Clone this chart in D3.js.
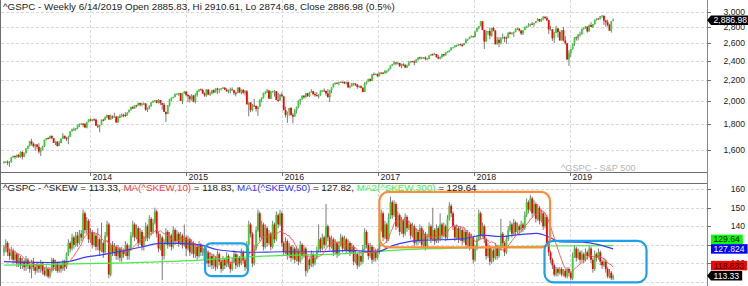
<!DOCTYPE html>
<html>
<head>
<meta charset="utf-8">
<script src="https://cdn.jsdelivr.net/npm/d3@7"></script>
<style>
  body { margin: 0; background: #fff; }
  svg { display: block; }
  text { font-family: "Liberation Sans", Arial, sans-serif; }
</style>
</head>
<body>
<div id="chart"></div>
<script>
// weekly bars, Friday closes, 2013-02-08 .. 2019-06-14
const firstWeek = "2013-02-08", lastWeek = "2019-06-14";

// ^GSPC weekly OHLC
const spxOpen = [1513,
1518,1520,1516,1518,1551,1561,1557,1569,1553,1589,1555,1582,1614,1634,1667,1650,1631,1643,1627,1592,
1606,1632,1680,1692,1691,1710,1691,1656,1664,1633,1655,1688,1710,1692,1691,1703,1745,1760,1762,1771,
1798,1805,1806,1805,1775,1818,1841,
1831,1842,1839,1790,1783,1797,1839,1836,1860,1878,1841,1867,1858,1865,1816,1865,1863,1881,1879,1878,
1901,1924,1949,1936,1963,1961,1985,1968,1978,1979,1925,1932,1955,1988,2003,2008,1986,2010,1983,1968,
1906,1887,1965,2018,2032,2040,2064,2068,2075,2002,2071,2089,
2058,2045,2019,2052,1995,2055,2097,2110,2105,2071,2053,2108,2061,2067,2102,2081,2118,2108,2116,2123,
2126,2107,2093,2094,2110,2102,2077,2076,2127,2080,2104,2078,2092,1971,1989,1921,1961,1958,1931,1951,
2015,2033,2075,2079,2099,2023,2089,2090,2092,2012,2006,2061,2044,
1922,1880,1907,1940,1880,1865,1918,1948,2000,2022,2050,2036,2073,2048,2081,2092,2065,2057,2047,2052,
2099,2099,2096,2071,2037,2103,2130,2162,2175,2174,2183,2184,2183,2169,2180,2128,2139,2165,2168,2154,
2133,2141,2126,2085,2165,2182,2213,2192,2260,2258,2264,2239,
2277,2275,2271,2295,2297,2316,2351,2367,2383,2373,2378,2344,2363,2356,2329,2349,2384,2399,2391,2382,
2416,2439,2432,2433,2438,2423,2425,2459,2473,2472,2477,2441,2426,2443,2477,2461,2500,2502,2519,2549,
2553,2575,2581,2588,2582,2579,2602,2642,2652,2676,2683,2674,
2743,2786,2810,2873,2762,2620,2732,2747,2691,2787,2752,2588,2641,2605,2656,2670,2669,2663,2728,2713,
2721,2735,2779,2780,2755,2718,2760,2801,2802,2819,2840,2833,2850,2875,2902,2872,2905,2930,2914,2886,
2767,2768,2659,2723,2781,2736,2633,2760,2633,2600,2417,2486,
2532,2596,2671,2665,2707,2708,2776,2793,2804,2743,2823,2801,2834,2893,2907,2905,2940,2946,2881,2860,
2826,2752,2886];

const spxHigh = [
1525,1524,1530,1525,1552,1564,1563,1570,1574,1594,1594,1585,1618,1635,1672,1687,1658,1646,1648,1654,
1621,1635,1680,1693,1699,1710,1711,1692,1669,1670,1672,1689,1730,1711,1701,1711,1745,1767,1775,1771,
1799,1808,1813,1810,1809,1823,1844,
1850,1844,1851,1850,1799,1798,1841,1847,1867,1883,1879,1883,1875,1897,1873,1869,1884,1891,1889,1902,
1902,1924,1950,1956,1964,1968,1986,1986,1984,1991,1984,1943,1964,1994,2006,2011,2008,2020,2010,1985,
1986,1907,1965,2019,2034,2041,2072,2075,2079,2076,2077,2094,
2093,2064,2056,2065,2058,2072,2097,2111,2119,2117,2083,2114,2114,2088,2107,2111,2120,2126,2117,2124,
2134,2131,2121,2109,2127,2130,2102,2085,2129,2132,2110,2112,2103,2103,1989,1990,1975,2021,1960,1952,
2016,2034,2080,2094,2116,2101,2097,2097,2104,2094,2076,2067,2082,
2044,1951,1908,1940,1947,1896,1931,1952,2009,2022,2053,2056,2075,2075,2087,2112,2096,2083,2085,2065,
2101,2104,2120,2096,2113,2104,2131,2169,2176,2178,2183,2188,2185,2187,2185,2188,2150,2175,2175,2169,
2162,2148,2148,2131,2180,2189,2214,2214,2260,2278,2268,2267,
2277,2279,2282,2301,2300,2319,2352,2368,2401,2389,2390,2382,2370,2376,2366,2362,2399,2401,2403,2406,
2418,2441,2447,2446,2442,2450,2433,2463,2477,2484,2491,2477,2466,2451,2480,2477,2501,2509,2520,2552,
2555,2576,2583,2589,2597,2595,2605,2658,2652,2680,2695,2689,
2744,2787,2811,2873,2873,2763,2755,2747,2790,2787,2802,2761,2676,2673,2675,2717,2683,2682,2733,2742,
2736,2742,2780,2790,2780,2755,2764,2805,2816,2848,2841,2863,2855,2876,2916,2902,2912,2941,2940,2940,
2894,2816,2775,2738,2816,2781,2747,2761,2800,2685,2601,2520,
2538,2597,2675,2681,2709,2739,2778,2794,2813,2808,2831,2861,2836,2894,2910,2916,2942,2955,2946,2892,
2892,2840,2876,2911];

const spxLow = [
1507,1515,1497,1485,1514,1547,1538,1546,1548,1548,1536,1553,1578,1608,1628,1636,1621,1598,1609,1577,
1560,1601,1625,1674,1684,1686,1684,1655,1639,1627,1633,1655,1684,1684,1670,1646,1700,1744,1747,1747,
1761,1780,1797,1779,1773,1768,1818,
1828,1823,1830,1790,1770,1737,1797,1825,1834,1853,1839,1839,1845,1856,1814,1816,1859,1860,1859,1862,
1872,1900,1915,1930,1930,1944,1959,1953,1955,1965,1916,1905,1928,1951,1985,1991,1980,1979,1965,1926,
1906,1821,1886,1951,2002,2027,2035,2064,2049,2002,1973,2069,
2047,1992,1988,2005,1990,1980,2041,2085,2103,2066,2039,2040,2055,2048,2064,2072,2080,2067,2075,2099,
2117,2105,2086,2072,2072,2101,2057,2044,2076,2077,2063,2067,2052,1971,1867,1903,1910,1953,1908,1872,
1949,1990,2025,2063,2076,2022,2020,2080,2042,2012,1993,2005,2043,
1918,1858,1812,1872,1872,1810,1865,1891,1937,1969,2012,2022,2032,2039,2039,2079,2054,2040,2043,2025,
2052,2086,2090,2051,2032,1992,2075,2130,2155,2160,2147,2171,2169,2160,2157,2128,2119,2139,2145,2142,
2115,2124,2119,2084,2085,2157,2180,2187,2190,2254,2253,2233,
2239,2262,2258,2266,2268,2288,2311,2344,2357,2354,2361,2334,2322,2344,2328,2323,2349,2380,2386,2353,
2382,2405,2416,2419,2422,2406,2407,2419,2458,2459,2467,2437,2418,2417,2428,2447,2459,2496,2495,2518,
2543,2552,2557,2566,2574,2557,2577,2600,2624,2652,2673,2673,
2674,2742,2768,2808,2759,2533,2618,2700,2648,2678,2742,2586,2585,2554,2587,2648,2613,2594,2660,2708,
2707,2676,2734,2761,2742,2698,2699,2760,2790,2802,2805,2828,2803,2850,2875,2864,2866,2886,2903,2874,
2710,2755,2628,2604,2722,2670,2632,2631,2621,2583,2409,2347,
2444,2524,2570,2632,2632,2681,2705,2764,2775,2729,2742,2800,2785,2830,2882,2898,2897,2920,2825,2801,
2805,2750,2729,2875];

const spxClose = [
1518,1520,1516,1518,1551,1561,1557,1569,1553,1589,1555,1582,1614,1634,1667,1650,1631,1643,1627,1592,
1606,1632,1680,1692,1691,1710,1691,1656,1664,1633,1655,1688,1710,1692,1691,1703,1745,1760,1762,1771,
1798,1805,1806,1805,1775,1818,1841,
1831,1842,1839,1790,1783,1797,1839,1836,1860,1878,1841,1867,1858,1865,1816,1865,1863,1881,1879,1878,
1901,1924,1949,1936,1963,1961,1985,1968,1978,1979,1925,1932,1955,1988,2003,2008,1986,2010,1983,1968,
1906,1887,1965,2018,2032,2040,2064,2068,2075,2002,2071,2089,
2058,2045,2019,2052,1995,2055,2097,2110,2105,2071,2053,2108,2061,2067,2102,2081,2118,2108,2116,2123,
2126,2107,2093,2094,2110,2102,2077,2076,2127,2080,2104,2078,2092,1971,1989,1921,1961,1958,1931,1951,
2015,2033,2075,2079,2099,2023,2089,2090,2092,2012,2006,2061,2044,
1922,1880,1907,1940,1880,1865,1918,1948,2000,2022,2050,2036,2073,2048,2081,2092,2065,2057,2047,2052,
2099,2099,2096,2071,2037,2103,2130,2162,2175,2174,2183,2184,2183,2169,2180,2128,2139,2165,2168,2154,
2133,2141,2126,2085,2165,2182,2213,2192,2260,2258,2264,2239,
2277,2275,2271,2295,2297,2316,2351,2367,2383,2373,2378,2344,2363,2356,2329,2349,2384,2399,2391,2382,
2416,2439,2432,2433,2438,2423,2425,2459,2473,2472,2477,2441,2426,2443,2477,2461,2500,2502,2519,2549,
2553,2575,2581,2588,2582,2579,2602,2642,2652,2676,2683,2674,
2743,2786,2810,2873,2762,2620,2732,2747,2691,2787,2752,2588,2641,2605,2656,2670,2669,2663,2728,2713,
2721,2735,2779,2780,2755,2718,2760,2801,2802,2819,2840,2833,2850,2875,2902,2872,2905,2930,2914,2886,
2767,2768,2659,2723,2781,2736,2633,2760,2633,2600,2417,2486,
2532,2596,2671,2665,2707,2708,2776,2793,2804,2743,2823,2801,2834,2893,2907,2905,2940,2946,2881,2860,
2826,2752,2873,2887];

// ^SKEW weekly OHLC
const skewOpen = [126,
128,131,126,124,127,122,125,120,123,119,121,118,122,119,117,121,118,116,119,117,
120,116,114,117,113,116,122,118,120,116,119,117,121,118,125,131,128,134,130,135,
131,136,134,147,138,143,133,137,130,135,129,133,127,131,126,135,141,114,130,126,
129,124,128,123,127,125,130,124,128,135,141,134,139,131,137,129,133,140,134,144,
137,142,148,136,128,134,124,131,137,130,135,129,138,132,136,131,135,130,134,128,
133,126,131,125,129,124,130,126,128,122,126,120,124,119,123,118,125,121,117,122,
119,124,120,117,121,125,119,123,120,126,122,118,130,141,136,120,128,138,147,134,
141,129,139,131,136,129,141,133,146,141,147,131,126,132,124,129,123,128,122,127,
121,130,124,128,116,122,119,125,120,123,127,133,128,134,130,140,134,129,133,126,
131,125,130,134,128,133,127,131,126,129,121,125,119,124,121,128,137,130,124,129,
122,127,123,126,138,147,134,141,133,145,153,146,152,140,146,137,143,136,145,139,
141,135,140,131,137,132,139,130,136,129,134,140,133,138,132,139,133,141,135,140,
134,144,151,147,140,134,139,133,138,132,137,130,136,129,134,122,128,133,147,135,
140,133,124,129,121,127,123,129,124,128,136,131,126,133,138,141,136,142,137,140,
138,141,139,146,153,149,155,147,152,144,150,143,147,140,145,131,126,122,119,114,
117,115,117,114,116,113,117,115,112,124,128,123,126,122,125,122,126,124,128,122,
117,125,123,126,121,119,121,117,113,115,112];

const skewHigh = [
130,133,132,128,129,128,127,126,125,124,123,122,124,123,121,122,123,119,121,120,
122,121,118,119,118,118,123,123,122,121,121,120,122,122,126,133,132,136,135,137,
137,138,138,149,148,145,144,139,138,137,136,139,134,142,132,137,143,142,131,132,
131,130,130,129,129,128,132,131,130,137,143,142,141,140,139,138,135,142,141,146,
145,144,150,149,137,136,135,133,139,138,137,136,140,139,138,137,137,136,141,135,
135,134,133,132,131,130,132,131,130,129,128,127,126,125,125,124,127,126,122,124,
123,126,125,121,123,127,126,125,124,128,127,123,132,143,142,137,130,140,149,148,
143,142,141,140,138,137,143,142,148,147,149,148,132,134,133,131,130,130,129,129,
128,132,131,130,129,124,123,127,126,125,129,141,134,136,135,152,141,135,135,134,
133,132,132,136,135,135,134,133,132,131,130,127,126,126,125,130,139,138,131,131,
130,129,128,128,140,149,148,143,142,147,156,154,154,153,148,147,145,144,147,146,
143,142,142,141,139,138,141,140,138,137,136,142,141,150,139,141,140,147,142,142,
141,146,153,152,148,141,141,140,140,139,139,138,138,137,136,135,130,135,149,148,
142,141,134,131,130,129,128,131,130,130,144,137,132,135,140,143,142,144,143,142,
141,143,142,148,155,154,157,156,154,153,152,151,149,148,147,146,132,127,123,120,
118,118,118,118,117,117,118,118,116,126,130,129,128,127,127,126,128,127,130,129,
123,127,126,128,127,122,123,122,118,117,116,114];

const skewLow = [
124,126,124,122,122,120,120,118,118,117,117,116,116,117,115,112,116,114,115,115,
115,114,113,113,112,112,115,116,116,115,115,115,116,116,117,124,126,127,128,129,
129,130,132,133,136,136,131,131,128,129,127,127,124,126,123,125,134,112,113,124,
124,122,122,121,121,123,124,122,122,127,134,132,133,129,130,127,127,132,132,133,
135,136,141,134,126,127,111,122,130,128,129,127,128,130,131,129,130,128,129,124,
127,124,125,123,123,122,123,124,124,120,120,118,118,117,117,116,117,119,115,116,
117,118,118,115,116,120,117,118,118,119,120,116,117,129,134,118,119,127,137,132,
133,127,128,129,130,127,128,131,132,139,140,129,124,125,122,123,121,122,120,121,
119,120,122,123,113,115,117,118,118,119,122,126,126,127,128,129,132,127,128,124,
125,123,124,129,126,127,125,126,124,125,119,120,117,118,119,120,127,128,122,123,
120,121,121,122,125,137,132,133,131,132,144,144,145,138,139,135,136,134,135,137,
138,133,134,129,130,130,131,128,129,127,128,133,131,132,130,131,131,132,133,134,
132,133,143,145,138,132,133,131,132,130,131,128,129,127,128,120,121,127,132,133,
134,131,122,123,119,120,121,122,122,123,127,129,124,125,132,137,134,135,135,136,
136,137,137,138,145,147,148,145,146,142,143,141,142,138,139,129,124,120,117,113,
113,113,114,113,113,112,112,113,111,111,123,121,122,120,121,120,121,122,123,120,
115,116,121,122,119,117,118,115,112,112,111,111];

const skewClose = [
128,131,126,124,127,122,125,120,123,119,121,118,122,119,117,121,118,116,119,117,
120,116,114,117,113,116,122,118,120,116,119,117,121,118,125,131,128,134,130,135,
131,136,134,147,138,143,133,137,130,135,129,133,127,131,126,135,141,114,130,126,
129,124,128,123,127,125,130,124,128,135,141,134,139,131,137,129,133,140,134,144,
137,142,148,136,128,134,124,131,137,130,135,129,138,132,136,131,135,130,134,128,
133,126,131,125,129,124,130,126,128,122,126,120,124,119,123,118,125,121,117,122,
119,124,120,117,121,125,119,123,120,126,122,118,130,141,136,120,128,138,147,134,
141,129,139,131,136,129,141,133,146,141,147,131,126,132,124,129,123,128,122,127,
121,130,124,128,116,122,119,125,120,123,127,133,128,134,130,140,134,129,133,126,
131,125,130,134,128,133,127,131,126,129,121,125,119,124,121,128,137,130,124,129,
122,127,123,126,138,147,134,141,133,145,153,146,152,140,146,137,143,136,145,139,
141,135,140,131,137,132,139,130,136,129,134,140,133,138,132,139,133,141,135,140,
134,144,151,147,140,134,139,133,138,132,137,130,136,129,134,122,128,133,147,135,
140,133,124,129,121,127,123,129,124,128,136,131,126,133,138,141,136,142,137,140,
138,141,139,146,153,149,155,147,152,144,150,143,147,140,145,131,126,122,119,114,
117,115,117,114,116,113,117,115,112,124,128,123,126,122,125,122,126,124,128,122,
117,125,123,126,121,119,121,117,113,115,112,113.33];

// MA1(^SKEW,50) and MA2(^SKEW,300)
const ma50Dates = ["2013-02-08","2013-08-02","2013-10-06","2013-12-21","2014-02-08","2014-07-22","2014-09-24",
  "2014-11-12","2015-02-23","2015-04-29","2015-06-28","2015-09-01","2016-01-05","2016-05-13","2016-09-16",
  "2016-12-27","2017-02-26","2017-05-29","2017-11-20","2018-02-04","2018-04-09","2018-06-24","2018-08-28",
  "2018-10-17","2018-11-24","2019-02-19","2019-04-06","2019-06-14"];
const ma50Values = [121,120.5,121,123.5,124.5,129,130.8,130.8,130,127.5,126.5,126,126.3,126.3,127,126.3,
  129.6,132.3,133.2,135.3,134.5,135.5,136.2,134,131.6,131.5,130.5,127.82];
const ma300Dates = ["2013-02-08","2014-02-08","2015-02-23","2015-09-01","2016-09-16","2017-03-15",
  "2017-09-20","2018-04-09","2018-10-17","2019-06-14"];
const ma300Values = [119.1,120,121.8,123.6,125.4,127.2,128.1,128.8,129.4,129.64];

// highlighted regions on the SKEW pane
const boxStart = ["2015-03-15","2017-01-06","2018-09-26"];
const boxEnd = ["2015-08-25","2018-10-17","2019-10-19"];
const boxTop = [130.8,158.5,132.2];
const boxBottom = [113.2,128.7,109.8];
const boxColors = ["#1ea0e6","#ff8c3c","#1ea0e6"];

const yearTicks = [2014,2015,2016,2017,2018,2019];
const spxTicks = [1600,1800,2000,2200,2400,2600,2800,3000];
const skewTicks = [120,130,140,150,160];
const skewTickLabels = [120,140,150,160]; // 130 sits fully under the value tags

const spxTitle = "^GSPC - Weekly 6/14/2019 Open 2885.83, Hi 2910.61, Lo 2874.68, Close 2886.98 (0.5%)";
const skewTitle = [
  ["^GSPC - ^SKEW = 113.33, ", "#222"], ["MA(^SKEW,10)", "#ff3b3b"], [" = 118.83, ", "#222"],
  ["MA1(^SKEW,50)", "#3333ff"], [" = 127.82, ", "#222"], ["MA2(^SKEW,300)", "#44ee44"], [" = 129.64", "#222"]
];
const lastLabels = [
  { text: "129.64", value: 129.64, bg: "#00ff00", fg: "#000" },
  { text: "127.824", value: 127.824, bg: "#0000ff", fg: "#fff" },
  { text: "118.833", value: 118.833, bg: "#ff0000", fg: "#000" },
  { text: "113.33", value: 113.33, bg: "#000", fg: "#fff", arrow: true }
];

(function() {
  const width = 748, height = 286;
  const plotRight = 707;
  const topBottom = 172.5, botTop = 183.5;
  const upColor = "#38d238", downColor = "#ff0000", wickColor = "#7a7a7a";
  const parse = d3.utcParse("%Y-%m-%d");

  const svg = d3.select("#chart").append("svg")
    .attr("width", width)
    .attr("height", height);

  const dates = d3.utcFriday.range(parse(firstWeek), d3.utcDay.offset(parse(lastWeek), 1));

  const x = d3.scaleUtc()
    .domain([parse("2013-01-24"), parse("2020-06-05")])
    .range([0, plotRight]);
  const yTop = d3.scaleLog().domain([1448, 3163]).range([topBottom, 0]);
  const yBot = d3.scaleLinear().domain([107.85, 163.06]).range([286, botTop]);

  const defs = svg.append("defs");
  defs.append("clipPath").attr("id", "clipTop")
    .append("rect").attr("x", 1).attr("y", 0).attr("width", plotRight - 1).attr("height", topBottom);
  defs.append("clipPath").attr("id", "clipBot")
    .append("rect").attr("x", 1).attr("y", botTop).attr("width", plotRight - 1).attr("height", height - botTop);

  // grid
  const grid = svg.append("g").attr("stroke", "#d9d9d9").attr("stroke-dasharray", "3,2").attr("shape-rendering", "crispEdges");
  const yearDates = yearTicks.map(yr => new Date(Date.UTC(yr, 0, 1)));
  yearDates.forEach(d => {
    const xx = Math.round(x(d)) + 0.5;
    grid.append("line").attr("x1", xx).attr("x2", xx).attr("y1", 0).attr("y2", topBottom);
    grid.append("line").attr("x1", xx).attr("x2", xx).attr("y1", botTop).attr("y2", height);
  });
  spxTicks.forEach(v => {
    const yy = Math.round(yTop(v)) + 0.5;
    grid.append("line").attr("x1", 1).attr("x2", plotRight).attr("y1", yy).attr("y2", yy);
  });
  skewTicks.concat([110]).forEach(v => {
    const yy = Math.round(yBot(v)) + 0.5;
    grid.append("line").attr("x1", 1).attr("x2", plotRight).attr("y1", yy).attr("y2", yy);
  });

  // watermark
  svg.append("text")
    .attr("x", 561).attr("y", 170.5)
    .attr("font-size", 9.2).attr("fill", "#b5b5b5")
    .text("^GSPC - S&P 500");

  function drawCandles(g, y, open, high, low, close) {
    const bw = 1.8;
    g.selectAll("line.wick")
      .data(dates)
      .enter().append("line")
      .attr("class", "wick")
      .attr("x1", d => x(d)).attr("x2", d => x(d))
      .attr("y1", (d, i) => y(high[i]))
      .attr("y2", (d, i) => y(low[i]))
      .attr("stroke", wickColor)
      .attr("stroke-width", 1);
    g.selectAll("rect.body")
      .data(dates)
      .enter().append("rect")
      .attr("class", "body")
      .attr("x", d => x(d) - bw / 2)
      .attr("width", bw)
      .attr("y", (d, i) => y(Math.max(open[i], close[i])))
      .attr("height", (d, i) => Math.max(1, y(Math.min(open[i], close[i])) - y(Math.max(open[i], close[i]))))
      .attr("fill", (d, i) => close[i] >= open[i] ? upColor : downColor);
  }

  // top pane: S&P 500 candles
  const gTop = svg.append("g").attr("clip-path", "url(#clipTop)");
  drawCandles(gTop, yTop, spxOpen, spxHigh, spxLow, spxClose);

  // bottom pane: SKEW candles + averages
  const gBot = svg.append("g").attr("clip-path", "url(#clipBot)");
  drawCandles(gBot, yBot, skewOpen, skewHigh, skewLow, skewClose);

  const line = d3.line().x(d => x(d[0])).y(d => yBot(d[1])).curve(d3.curveMonotoneX);

  gBot.append("path")
    .datum(ma300Dates.map((d, i) => [parse(d), ma300Values[i]]))
    .attr("fill", "none").attr("stroke", "#44ee44").attr("stroke-width", 1.2)
    .attr("d", line);
  gBot.append("path")
    .datum(ma50Dates.map((d, i) => [parse(d), ma50Values[i]]))
    .attr("fill", "none").attr("stroke", "#3a3aff").attr("stroke-width", 1.2)
    .attr("d", line);

  // MA(^SKEW,10)
  const ma10 = skewClose.map((c, i) => {
    const win = skewClose.slice(Math.max(0, i - 9), i + 1);
    return [dates[i], d3.mean(win)];
  });
  gBot.append("path")
    .datum(ma10)
    .attr("fill", "none").attr("stroke", "#ff5050").attr("stroke-width", 0.9)
    .attr("d", d3.line().x(d => x(d[0])).y(d => yBot(d[1])));

  // highlight boxes
  boxStart.forEach((s, i) => {
    const x0 = x(parse(s)), x1 = x(parse(boxEnd[i]));
    const y0 = yBot(boxTop[i]), y1 = yBot(boxBottom[i]);
    svg.append("rect")
      .attr("x", x0).attr("y", y0)
      .attr("width", x1 - x0).attr("height", y1 - y0)
      .attr("rx", i === 0 ? 6 : 9)
      .attr("fill", "none")
      .attr("stroke", boxColors[i])
      .attr("stroke-width", 2.2);
  });

  // pane frames
  const frame = svg.append("g").attr("stroke", "#6e6e6e").attr("shape-rendering", "crispEdges");
  frame.append("line").attr("x1", 0.5).attr("x2", 0.5).attr("y1", 0).attr("y2", height);
  frame.append("line").attr("x1", 0).attr("x2", plotRight).attr("y1", topBottom).attr("y2", topBottom);
  frame.append("line").attr("x1", 0).attr("x2", plotRight).attr("y1", botTop).attr("y2", botTop);
  frame.append("line").attr("x1", plotRight + 0.5).attr("x2", plotRight + 0.5).attr("y1", 0).attr("y2", height)
    .attr("stroke", "#8a8a8a");

  // x axis (years) between the panes
  yearDates.forEach((d, i) => {
    const xx = Math.round(x(d)) + 0.5;
    frame.append("line").attr("x1", xx).attr("x2", xx).attr("y1", topBottom).attr("y2", topBottom + 3.5);
    svg.append("text")
      .attr("x", xx + 2).attr("y", 180)
      .attr("font-size", 8.8).attr("fill", "#222")
      .text(yearTicks[i]);
  });

  // right axes
  const fmt = d3.format(",");
  spxTicks.forEach(v => {
    const yy = yTop(v);
    frame.append("line").attr("x1", plotRight).attr("x2", plotRight + 4).attr("y1", Math.round(yy) + 0.5).attr("y2", Math.round(yy) + 0.5);
    svg.append("text")
      .attr("x", 745).attr("y", yy + 3)
      .attr("text-anchor", "end")
      .attr("font-size", 8.6).attr("fill", "#222")
      .text(fmt(v));
  });
  skewTicks.forEach(v => {
    const yy = yBot(v);
    frame.append("line").attr("x1", plotRight).attr("x2", plotRight + 4).attr("y1", Math.round(yy) + 0.5).attr("y2", Math.round(yy) + 0.5);
  });
  skewTickLabels.forEach(v => {
    svg.append("text")
      .attr("x", 745).attr("y", yBot(v) + 3)
      .attr("text-anchor", "end")
      .attr("font-size", 8.6).attr("fill", "#222")
      .text(v);
  });

  // value tags on the right axis
  function tag(yc, text, bg, fg, arrow) {
    const g = svg.append("g");
    const t = g.append("text")
      .attr("x", 713.5).attr("y", yc + 3)
      .attr("font-size", 8.6).attr("fill", fg)
      .text(text);
    const w = t.node().getComputedTextLength();
    const x0 = 711, x1 = Math.min(width, 713.5 + w + 3);
    const h = 9.5;
    if (arrow) {
      g.insert("path", "text")
        .attr("d", `M${plotRight},${yc} L${x0},${yc - h / 2} L${x1},${yc - h / 2} L${x1},${yc + h / 2} L${x0},${yc + h / 2} Z`)
        .attr("fill", bg);
    } else {
      g.insert("rect", "text")
        .attr("x", x0).attr("y", yc - h / 2)
        .attr("width", x1 - x0).attr("height", h)
        .attr("fill", bg);
    }
  }
  tag(yTop(spxClose[spxClose.length - 1]), "2,886.98", "#000", "#fff", true);

  // stack SKEW tags so they do not overlap
  const placed = lastLabels.map(d => ({ ...d, y: yBot(d.value) }));
  for (let i = placed.length - 2; i >= 0; i--) {
    if (placed[i + 1].y - placed[i].y < 9.5) placed[i].y = placed[i + 1].y - 9.5;
  }
  placed.forEach(d => tag(d.y, d.text, d.bg, d.fg, d.arrow));

  // titles
  svg.append("text")
    .attr("x", 3).attr("y", 9.5)
    .attr("font-size", 9.8).attr("fill", "#222")
    .text(spxTitle);

  const t2 = svg.append("text")
    .attr("x", 3).attr("y", 190.8)
    .attr("font-size", 9.8);
  skewTitle.forEach(p => t2.append("tspan").attr("fill", p[1]).text(p[0]));
})();
</script>
</body>
</html>
